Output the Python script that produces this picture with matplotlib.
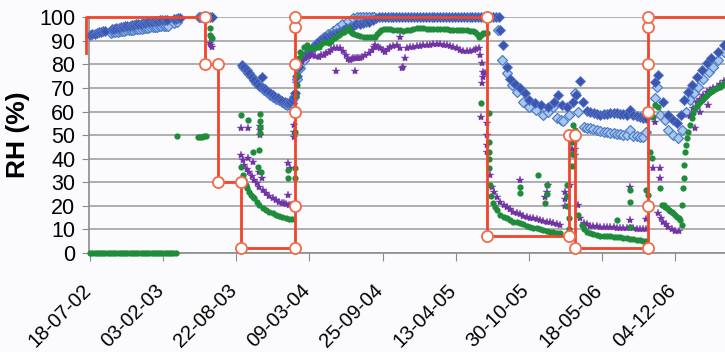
import numpy as np
import matplotlib.pyplot as plt
import matplotlib.dates as mdates
import matplotlib.transforms as mtrans

start = np.datetime64('2002-07-18')
tick_dates = ['2002-07-18', '2003-02-03', '2003-08-22', '2004-03-09', '2004-09-25',
              '2005-04-13', '2005-10-30', '2006-05-18', '2006-12-04']

# series values, x given as days after 18-07-02
dark_days = [0, 6, 12, 18, 24, 30, 36, 42,
             60, 66, 72, 78, 84, 90, 96, 102, 108, 114, 120, 126, 132, 138, 144, 150, 156,
             162, 168, 174, 180, 186, 192, 198, 204, 210, 229, 235, 241, 246, 300, 306, 312, 328, 334,
             415, 422, 429, 436, 442, 449, 456, 463, 470, 474, 479, 485, 492, 499, 506, 513, 520,
             526, 533, 538, 543, 548, 552, 557, 561,
             566, 572, 580, 590, 602, 611, 620, 629, 637, 646, 655, 664, 673, 682, 691, 700, 710,
             719, 728, 737, 746, 755, 764, 773, 782, 790, 798, 806, 814, 822, 830, 838, 846, 854,
             862, 870, 878, 886, 894, 902, 910, 918, 926, 934, 942, 950, 958, 966, 974, 982, 990,
             998, 1006, 1014, 1022, 1030, 1038, 1046, 1054, 1062, 1070, 1078, 1086, 1094, 1102,
             1110, 1118,
             1122, 1130, 1140, 1150, 1162, 1175, 1189, 1202, 1216, 1234, 1252, 1268, 1279, 1290,
             1306, 1320, 1329, 1341, 1349, 1360, 1368, 1378, 1386, 1396, 1405, 1414, 1423, 1432,
             1441, 1450, 1459, 1468, 1477, 1486, 1495, 1504, 1514, 1522,
             1546, 1555, 1568, 1582, 1596, 1605, 1617, 1626, 1637, 1648, 1660, 1674, 1687, 1700,
             1718, 1735]
dark_rh = [92.5, 92.8, 93.1, 93.3, 93.6, 93.9, 94.1, 94.3,
           95.0, 95.1, 95.3, 95.5, 95.7, 95.9, 96.1, 96.3, 96.5, 96.6, 96.8, 97.0, 97.2, 97.3,
           97.5, 97.7, 97.8, 98.0, 98.2, 98.3, 98.5, 98.6, 98.7, 98.8, 98.9, 99.0, 99.2, 99.4,
           99.5, 99.6, 100, 100, 100, 100, 100,
           79.8, 78.8, 77.6, 76.2, 74.8, 73.4, 72.0, 71.0, 74.8, 70.2, 69.5, 68.6, 67.8, 67.0,
           66.3, 65.6, 64.9, 64.4, 63.9, 63.7, 63.5, 64.0, 64.9, 66.2, 67.8,
           75.0, 79.0, 82.6, 84.5, 86.1, 87.5, 89.0, 90.2, 91.0, 91.8, 92.5, 92.9, 93.2, 93.9,
           94.6, 95.3, 96.0, 96.5, 97.0, 97.3, 97.5, 97.9, 98.2, 98.8, 99.6] + [100] * 42 + [
           94.6, 88.2, 79.0, 74.0, 71.5, 69.9, 67.8, 64.9, 63.5, 62.8, 62.1, 64.2, 67.0, 62.8,
           62.1, 64.2, 67.0, 73.0, 63.9, 60.3, 59.8, 59.3, 59.0, 58.6, 58.8, 58.8, 59.3, 59.3,
           59.3, 59.0, 58.8, 58.6, 60.7, 58.6, 58.0, 57.6, 57.4, 57.2,
           72.7, 75.5, 64.2, 58.6, 56.4, 55.0, 58.6, 64.9, 68.4, 71.3, 74.8, 77.6, 80.5, 82.6,
           85.4, 88.2]

light_days = [57, 63, 69, 75, 81, 87, 93, 99, 105, 111, 117, 123, 129, 135, 141, 147, 153, 159,
              165, 171, 177, 183, 189, 195, 201, 207, 213, 230, 238, 298, 306,
              418, 425, 432, 440, 447, 454, 461, 468, 476, 484, 492, 500, 508, 516, 524, 532, 540,
              547, 553, 558,
              566, 575, 585, 596, 608, 618, 628, 640, 652, 664, 676, 690, 705, 718, 730, 738, 746,
              754, 762, 770, 778,
              1117, 1126, 1140, 1153, 1167, 1185, 1202, 1220, 1238, 1252, 1266, 1277, 1288, 1295,
              1309, 1327, 1336, 1350, 1359, 1368, 1377, 1386, 1395, 1405, 1414, 1423, 1432, 1441,
              1450, 1459, 1468, 1477, 1486, 1495, 1504, 1514, 1522,
              1546, 1550, 1560, 1573, 1582, 1596, 1608, 1619, 1630, 1642, 1653, 1664, 1678, 1692,
              1705, 1718, 1735]
light_rh = [93.5, 93.6, 93.8, 93.9, 94.0, 94.1, 94.3, 94.4, 94.5, 94.6, 94.7, 94.9, 95.0, 95.1,
            95.2, 95.3, 95.4, 95.6, 95.7, 95.8, 95.9, 96.0, 96.1, 96.2, 96.3, 96.4, 96.5, 97.5,
            97.8, 100, 100,
            79.0, 78.0, 76.5, 75.0, 73.5, 72.2, 71.2, 70.3, 69.3, 68.2, 67.2, 66.3, 65.5, 64.7,
            64.0, 63.4, 62.8, 62.6, 63.8, 66.0,
            74.0, 78.5, 82.0, 84.5, 86.5, 88.5, 90.0, 91.5, 93.0, 94.2, 95.5, 97.0, 98.5, 99.5,
            100, 100, 100, 100, 100, 100, 100,
            94.6, 81.9, 76.2, 71.3, 68.4, 64.2, 62.1, 60.7, 58.6, 60.0, 62.1, 57.1, 56.5, 56.0,
            58.6, 67.8, 60.0, 53.6, 53.2, 52.9, 52.5, 52.2, 51.8, 51.5, 51.2, 51.1, 50.8, 50.6,
            50.4, 50.2, 50.1, 52.2, 49.6, 49.5, 49.4, 49.3, 51.5,
            65.6, 70.6, 58.6, 56.4, 52.2, 50.1, 48.9, 52.2, 60.0, 64.9, 67.8, 70.6, 74.0, 76.9,
            79.0, 81.9, 85.4]

purple_days = [328, 331, 334,
               413, 431, 465, 465, 465, 413, 417, 422, 428, 436, 442, 449, 456, 463, 472, 481,
               490, 499, 508, 517, 524, 531, 537, 543, 549, 431, 445, 463, 470, 542, 546, 542,
               558, 558, 558, 562, 564, 566,
               571, 575, 580, 589, 598, 607, 616, 625, 632, 639, 646, 653, 660, 666, 675, 684,
               692, 700, 706, 711, 716, 720, 725, 730, 734, 738, 745, 753, 762, 771, 776, 780,
               787, 794, 801, 808, 814, 821, 830, 839, 848, 848, 862, 866, 875, 884, 893, 903,
               912, 921, 930, 939, 948, 958, 967, 976, 985, 994, 1003, 1012, 1021, 1031, 1040,
               1049, 1056, 1063, 1066, 1072, 1074, 1076, 1081, 1072, 673, 725, 853, 857, 1069,
               1087, 1087, 1087, 1087,
               1093, 1099, 1106, 1113, 1122, 1131, 1140, 1149, 1158, 1167, 1176, 1185, 1194,
               1203, 1213, 1222, 1231, 1240, 1249, 1258, 1267, 1276, 1285, 1176, 1254, 1250,
               1245, 1298, 1298, 1298, 1313, 1318, 1318, 1327, 1327, 1327,
               1334, 1341, 1350, 1359, 1368, 1377, 1386, 1395, 1405, 1414, 1423, 1432, 1441,
               1450, 1459, 1468, 1477, 1486, 1495, 1504, 1514, 1522, 1477, 1477, 1522,
               1541, 1546, 1560, 1560, 1555, 1562, 1568, 1575, 1582, 1591, 1600, 1610,
               1642, 1650, 1660, 1669, 1678, 1687, 1696, 1705, 1714, 1724, 1735, 1655, 1669, 1690]
purple_rh = [89.0, 88.2, 87.6,
             52.9, 52.9, 54.0, 52.0, 50.0, 41.6, 39.5, 37.3, 35.8, 34.5, 32.8, 31.0, 29.5, 28.1,
             26.6, 25.3, 24.2, 23.2, 22.5, 21.8, 21.4, 21.1, 20.7, 20.4, 20.2, 40.2, 38.7, 34.5,
             32.0, 38.0, 35.9, 24.6,
             54.5, 51.5, 49.0, 72.0, 67.8, 79.8,
             80.0, 80.5, 81.5, 82.6, 83.5, 84.0, 83.5, 83.3, 83.8, 84.0, 84.8, 85.4, 86.0, 86.8,
             86.8, 86.8, 85.5, 84.0, 82.5, 81.9, 82.3, 82.6, 82.6, 82.6, 82.6, 82.6, 83.2, 84.0,
             85.0, 86.1, 87.2, 88.2, 87.5, 86.8, 86.0, 85.4, 86.5, 87.5, 88.0, 88.2, 91.6, 87.0,
             82.6, 86.8, 87.2, 87.5, 87.8, 88.0, 88.1, 88.2, 88.3, 88.5, 88.5, 88.5, 88.4, 88.2,
             87.9, 87.5, 86.8, 86.1, 85.8, 85.7, 85.9, 86.1, 86.5, 86.8, 84.0, 80.5, 76.9, 74.8,
             76.2, 72.0, 77.0, 77.0, 78.4, 79.0, 57.8,
             55.0, 50.0, 46.0, 43.0,
             33.1, 28.1, 25.8, 23.9, 21.8, 20.4, 19.6, 18.6, 17.5, 16.9, 16.4, 15.9, 15.4, 15.0,
             14.7, 14.3, 14.0, 13.6, 13.3, 13.0, 12.6, 12.3, 11.9, 31.0, 28.9, 26.0, 23.9, 26.0,
             23.0, 20.0, 28.9, 47.0, 44.0, 47.0, 44.0, 41.6,
             20.4, 14.7, 12.6, 12.1, 11.6, 11.4, 11.3, 11.2, 11.2, 11.1, 11.0, 10.9, 10.8, 10.7,
             10.7, 10.6, 10.5, 10.4, 10.3, 10.2, 10.1, 10.0, 28.1, 14.0, 14.5,
             35.9, 55.7, 35.9, 31.7, 16.8, 15.0, 13.3, 12.2, 11.2, 10.3, 9.4, 9.2,
             58.0, 61.5, 64.2, 65.5, 67.0, 68.1, 69.1, 69.9, 70.6, 71.8, 73.0, 52.9, 60.0, 62.8]

green_days = [0, 6, 12, 18, 24, 30, 36, 42, 48, 54, 60, 66, 72, 78, 84, 90, 96, 102, 108, 114,
              120, 126, 132, 138, 144, 150, 156, 162, 168, 174, 180, 186, 192, 198, 204, 210,
              216, 222, 228, 234,
              238, 295, 301, 306, 312, 317, 328, 328, 331, 334,
              413, 431, 445, 463, 458, 468, 465, 465, 465, 465, 542, 542,
              413, 417, 421, 426, 430, 435, 440, 445, 449, 456, 463, 472, 481, 490, 499, 508,
              517, 526, 535, 543, 551,
              560, 560, 560, 562, 565, 567, 571, 575, 585, 594,
              580, 593, 602, 611, 618, 625, 632, 639, 646, 653, 660, 666, 673, 680, 687, 694,
              700, 707, 711, 716, 723, 730, 739, 748, 757, 766, 773, 780, 785, 789, 796, 803,
              812, 821, 830, 839, 848, 857, 866, 875, 884, 893, 903, 912, 921, 930, 939, 948,
              958, 967, 976, 985, 994, 1003, 1012, 1021, 1031, 1040, 1047, 1053, 1058, 1063,
              1070, 1076, 1081, 1085, 1069, 1090,
              1090, 1090, 1090, 1090,
              1094, 1098, 1101, 1107, 1113, 1122, 1131, 1140, 1149, 1158, 1167, 1176, 1185, 1194,
              1203, 1213, 1222, 1231, 1240, 1249, 1258, 1267, 1276, 1285, 1176, 1176, 1226, 1250,
              1250, 1245, 1304, 1304, 1304, 1309, 1309, 1318, 1318, 1318, 1322, 1327,
              1336, 1345, 1352, 1359, 1368, 1377, 1386, 1395, 1405, 1414, 1423, 1432, 1441, 1450,
              1459, 1468, 1477, 1486, 1495, 1504, 1514, 1522, 1441, 1477, 1477, 1477, 1522, 1525,
              1532, 1537, 1541, 1546, 1553, 1560, 1564, 1569, 1574, 1578, 1583, 1587, 1592, 1596,
              1601, 1605, 1610, 1614, 1619,
              1619, 1622, 1624, 1626, 1628, 1631, 1633, 1637, 1640, 1646, 1650, 1655, 1660, 1664,
              1669, 1674, 1678, 1683, 1687, 1692, 1696, 1701, 1705, 1710, 1714, 1719, 1723, 1729,
              1735]
green_rh = [0] * 40 + [
            49.6, 49.3, 49.3, 49.4, 49.6, 49.8, 95.3, 92.5, 91.8, 91.0,
            58.6, 56.4, 43.0, 43.7, 36.6, 34.5, 59.0, 56.0, 53.5, 51.0, 35.2, 31.7,
            36.6, 33.1, 30.8, 28.9, 27.4, 26.0, 24.5, 23.8, 23.2, 21.7, 20.4, 19.2, 18.2, 17.5,
            16.8, 16.3, 15.8, 15.4, 15.0, 14.6, 14.3,
            35.9, 31.7, 51.5, 67.0, 71.3, 75.5, 82.6, 85.4, 87.5, 88.2,
            84.5, 86.8, 86.8, 86.8, 87.2, 87.5, 88.5, 89.7, 89.4, 89.0, 90.0, 91.0, 91.8, 92.5,
            93.2, 93.9, 94.6, 95.3, 94.0, 93.2, 92.8, 92.5, 92.1, 91.8, 91.6, 91.5, 91.7, 91.8,
            93.0, 93.9, 94.5, 95.0, 95.0, 95.0, 94.8, 94.6, 94.4, 94.2, 94.4, 94.6, 95.2, 95.5,
            95.4, 95.3, 95.2, 95.2, 95.1, 95.1, 95.0, 95.0, 94.9, 94.8, 94.7, 94.7, 94.6, 94.6,
            94.5, 94.3, 94.1, 93.9, 93.0, 91.8, 92.5, 93.2, 93.5, 93.5, 63.5, 59.3,
            47.0, 43.0, 40.0, 36.0,
            28.9, 24.0, 21.1, 19.5, 18.2, 16.1, 15.4, 14.7, 14.0, 13.3, 13.0, 12.6, 12.1, 11.6,
            11.2, 10.8, 10.5, 10.2, 9.8, 9.4, 9.0, 8.8, 8.6, 8.4, 28.1, 25.3, 33.1, 29.0, 25.0,
            21.0, 29.0, 24.0, 20.0, 15.0, 10.0, 47.0, 42.0, 37.0, 54.3, 52.2,
            16.1, 11.9, 10.2, 9.0, 8.4, 7.9, 7.6, 7.4, 7.3, 7.2, 7.1, 6.9, 6.8, 6.6, 6.4, 6.2,
            6.0, 5.8, 5.6, 5.4, 5.2, 5.0, 14.0, 26.7, 21.8, 11.0, 26.7, 24.5,
            43.0, 40.2, 57.8, 62.8, 62.1, 27.4, 20.4, 20.4, 19.7, 19.0, 18.4, 17.8, 17.3, 16.8,
            16.1, 15.4, 14.7, 14.0, 11.9,
            20.4, 27.4, 31.7, 37.3, 43.0, 46.0, 48.6, 51.5, 54.3, 57.1, 59.5, 61.4, 62.3, 63.0,
            64.2, 64.9, 65.5, 66.3, 67.0, 67.7, 68.3, 68.7, 69.1, 69.5, 69.9, 70.3, 70.6, 71.3,
            72.0]

step_days = [-11, -11, 315, 315, 350, 350, 413, 413, 560, 560, 560, 560, 560, 560,
             1086, 1086, 1311, 1311, 1327, 1327, 1527, 1527, 1527, 1527, 1527, 1527, 1737]
step_rh = [85, 100, 100, 80, 80, 30, 30, 2, 2, 20, 60, 80, 96, 100,
           100, 7, 7, 50, 50, 2, 2, 20, 60, 80, 96, 100, 100]
step_marked = list(range(2, 26))


def to_dates(days):
    return start + np.array(days).astype('timedelta64[D]')


plt.rcParams['font.family'] = ['Liberation Sans', 'DejaVu Sans']
fig = plt.figure(figsize=(7.25, 3.52), dpi=100, facecolor='#fbfbfd')
ax = fig.add_axes([0.1228, 0.2813, 0.8772, 0.6696])
ax.set_facecolor('#fbfbfd')

ax.plot(to_dates(light_days), light_rh, ls='none', marker='D', ms=4.6,
        mfc='#a9c8ee', mec='#4f7cc8', mew=0.9, clip_on=False, zorder=3)
ax.plot(to_dates(dark_days), dark_rh, ls='none', marker='D', ms=4.8,
        mfc='#3a56b0', mec='#5a78c8', mew=0.6, clip_on=False, zorder=4)
ax.plot(to_dates(purple_days), purple_rh, ls='none', marker='*', ms=6,
        color='#7233a6', mew=0.3, clip_on=False, zorder=5)
ax.plot(to_dates(green_days), green_rh, ls='none', marker='o', ms=4.5,
        color='#1f8c3b', mew=0, clip_on=False, zorder=6)
ax.plot(to_dates(step_days), step_rh, color='#f2442a', lw=2, clip_on=False, zorder=7)
sd = to_dates(step_days)
ax.plot(sd[step_marked], np.array(step_rh)[step_marked], ls='none', marker='o', ms=8,
        mfc='white', mec='#f26a4a', mew=1.3, clip_on=False, zorder=8)

ax.set_xlim(start - np.timedelta64(3, 'D'), start + np.timedelta64(1737, 'D'))
ax.set_ylim(0, 100)
ax.set_yticks(range(0, 101, 10))
ax.set_xticks(np.array(tick_dates, dtype='datetime64[D]'))
ax.xaxis.set_major_formatter(mdates.DateFormatter('%d-%m-%y'))
ax.grid(axis='y', color='#a8a8a8', lw=1.3)
ax.set_axisbelow(True)
for s in ['top', 'right']:
    ax.spines[s].set_visible(False)
for s in ['left', 'bottom']:
    ax.spines[s].set_color('#8c8c8c')
    ax.spines[s].set_linewidth(1.2)
ax.tick_params(axis='y', length=5, color='#8c8c8c', labelsize=15.5, pad=5)
ax.tick_params(axis='x', length=6, color='#8c8c8c', labelsize=14.5, pad=14)
shift = mtrans.ScaledTranslation(-0.09, 0, fig.dpi_scale_trans)
for lab in ax.get_xticklabels():
    lab.set_rotation(45)
    lab.set_ha('right')
    lab.set_rotation_mode('anchor')
    lab.set_transform(lab.get_transform() + shift)
ax.set_ylabel('RH (%)', fontsize=19, fontweight='bold')
ax.yaxis.set_label_coords(-0.093, 0.5)

fig.savefig('out.png', dpi=100, facecolor=fig.get_facecolor())
